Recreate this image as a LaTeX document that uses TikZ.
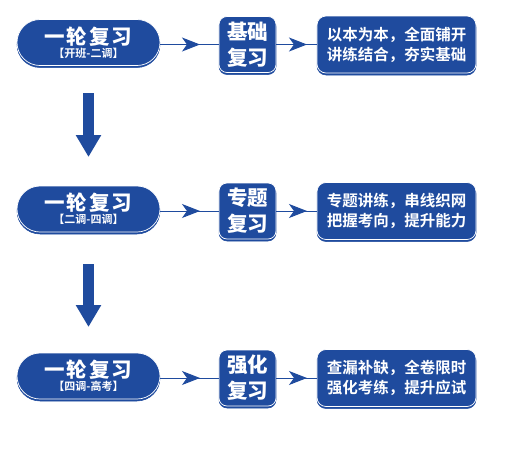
\documentclass[tikz,border=0pt]{standalone}
\usepackage{fontspec}
\setmainfont{Noto Sans CJK SC}
\newfontfamily\cjkb{Noto Sans CJK SC Bold}
\newfontfamily\cjkh{Noto Sans CJK SC Black}
\usetikzlibrary{arrows.meta,decorations.markings,shadows}
\definecolor{mainblue}{RGB}{31,75,158}
\tikzset{
  boxbase/.style={fill=mainblue, draw=white, line width=0.7pt, text=white, align=center, inner sep=0pt,
    general shadow={shadow yshift=-2pt, fill=mainblue, draw=mainblue, line width=0.5pt}},
  pill/.style={boxbase, rounded corners=23pt, minimum width=143pt, minimum height=46pt},
  midbox/.style={boxbase, rounded corners=8pt, minimum width=57pt, minimum height=56pt, font=\cjkh\fontsize{20.5}{26}\selectfont},
  descbox/.style={boxbase, rounded corners=9pt, minimum width=159pt, minimum height=57pt, font=\cjkb\fontsize{15.5}{20}\selectfont},
  flowline/.style={draw=mainblue, line width=1pt, postaction={decorate},
    decoration={markings, mark=at position #1 with {\arrow{Stealth[length=18pt,width=14pt,inset=5pt]}}}},
  downarrow/.style={draw=mainblue, line width=11pt, -{Triangle[length=22pt,width=24pt]}},
}
\begin{document}
\begin{tikzpicture}[x=1pt,y=-1pt]
\useasboundingbox (0,0) rectangle (507,448);
\foreach \i/\y/\sub/\mid/\desc in {
  1/44.5/【开班-二调】/基础\\复习/以本为本，全面铺开\\讲练结合，夯实基础,
  2/211/【二调-四调】/专题\\复习/专题讲练，串线织网\\把握考向，提升能力,
  3/378/【四调-高考】/强化\\复习/查漏补缺，全卷限时\\强化考练，提升应试}{
  \node[pill] (p\i) at (88.5,\y-2) {{\cjkh\fontsize{20.5}{22}\selectfont 一\kern2pt 轮\kern2pt 复\kern2pt 习}\\[1pt]{\cjkb\fontsize{11}{12}\selectfont \sub}};
  \node[midbox] (m\i) at (247.5,\y) {\mid};
  \node[descbox] (d\i) at (396.5,\y) {\desc};
  \draw[flowline=0.68] (p\i.east |- 0,\y) -- (m\i.west |- 0,\y);
  \draw[flowline=0.76] (m\i.east |- 0,\y) -- (d\i.west |- 0,\y);
}
\coordinate (a1s) at (88.5,93);
\coordinate (a1e) at (88.5,157);
\coordinate (a2s) at (88.5,264);
\coordinate (a2e) at (88.5,327);
\draw[downarrow] (a1s) -- (a1e);
\draw[downarrow] (a2s) -- (a2e);
\end{tikzpicture}
\end{document}
